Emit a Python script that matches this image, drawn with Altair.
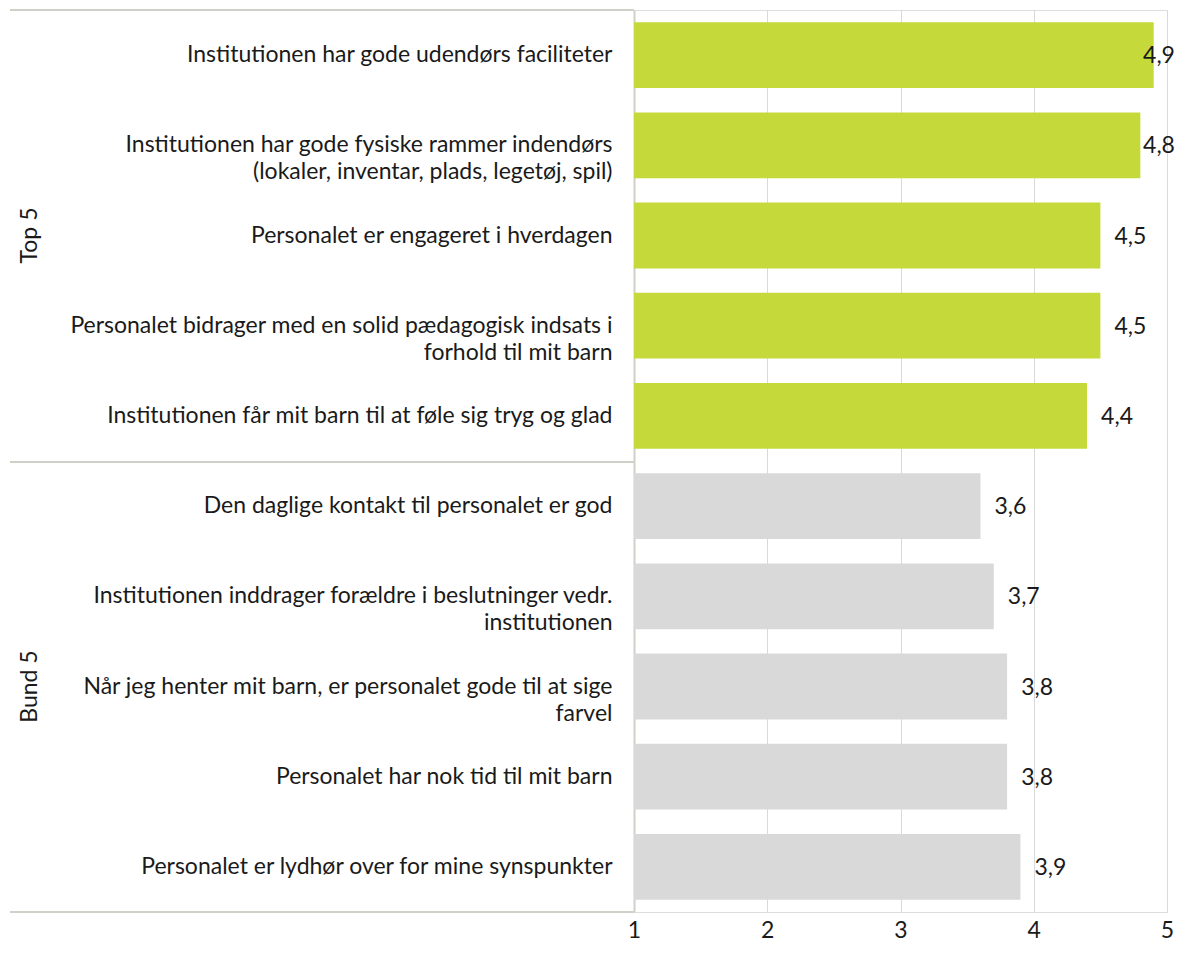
import altair as alt
import pandas as pd

categories = [
    "Institutionen har gode udendørs faciliteter",
    "Institutionen har gode fysiske rammer indendørs|(lokaler, inventar, plads, legetøj, spil)",
    "Personalet er engageret i hverdagen",
    "Personalet bidrager med en solid pædagogisk indsats i|forhold til mit barn",
    "Institutionen får mit barn til at føle sig tryg og glad",
    "Den daglige kontakt til personalet er god",
    "Institutionen inddrager forældre i beslutninger vedr.|institutionen",
    "Når jeg henter mit barn, er personalet gode til at sige|farvel",
    "Personalet har nok tid til mit barn",
    "Personalet er lydhør over for mine synspunkter",
]
values = [4.9, 4.8, 4.5, 4.5, 4.4, 3.6, 3.7, 3.8, 3.8, 3.9]
groups = ["Top 5"] * 5 + ["Bund 5"] * 5
labels = ["4,9", "4,8", "4,5", "4,5", "4,4", "3,6", "3,7", "3,8", "3,8", "3,9"]

FONT = "Lato"
FS = 23
W, H = 533, 902

df = pd.DataFrame({"cat": categories, "v": values, "g": groups, "lab": labels,
                   "start": [1] * len(values)})

xscale = alt.Scale(domain=[1, 5], nice=False)
yscale = alt.Scale(domain=categories, paddingInner=0.27, paddingOuter=0.135)

base = alt.Chart(df)

bars = base.mark_bar().encode(
    y=alt.Y("cat:N", scale=yscale, sort=categories,
            axis=alt.Axis(title=None, labelExpr="split(datum.label, '|')",
                          labelFontSize=FS, labelFont=FONT, labelColor="#1a1a1a",
                          labelPadding=22, labelLineHeight=27, labelLimit=700,
                          ticks=False, grid=False, domainColor="#D0D0C8",
                          domainWidth=2)),
    x=alt.X("start:Q", scale=xscale,
            axis=alt.Axis(title=None, values=[1, 2, 3, 4, 5], format="d",
                          labelFontSize=FS, labelFont=FONT, labelColor="#1a1a1a",
                          labelPadding=7, labelFlush=False, ticks=False, domain=False,
                          grid=True, gridColor="#D9D9D9", gridWidth=1)),
    x2="v:Q",
    color=alt.Color("g:N", scale=alt.Scale(domain=["Top 5", "Bund 5"],
                                           range=["#C5D93B", "#D9D9D9"]),
                    legend=None),
)

text = base.transform_calculate(
    lx="min(datum.v + 0.225, 4.94)"
).mark_text(font=FONT, fontSize=FS, color="#1a1a1a", align="center",
            baseline="middle", dy=1).encode(
    y=alt.Y("cat:N", scale=yscale, sort=categories),
    x=alt.X("lx:Q", scale=xscale),
    text="lab:N",
)

gdf = pd.DataFrame({"g": ["Top 5", "Bund 5"],
                    "mid": [categories[2], categories[7]]})
glabels = alt.Chart(gdf).mark_text(font=FONT, fontSize=FS, color="#1a1a1a",
                                   angle=270, align="center", baseline="middle").encode(
    y=alt.Y("mid:N", scale=yscale, sort=categories),
    x=alt.value(-604),
    text="g:N",
)

sep = pd.DataFrame({"yp": [0, 452, 902]})
seps = alt.Chart(sep).mark_rule(color="#D0D0C8", strokeWidth=2).encode(
    y=alt.Y("yp:Q", scale=None),
    x=alt.value(-624),
    x2=alt.value(0),
)

chart = alt.layer(bars, text, glabels, seps).properties(
    width=W, height=H,
    autosize=alt.AutoSizeParams(type="none"),
    padding={"left": 626, "top": 2, "right": 9, "bottom": 33},
).configure_view(stroke=None).configure(background="white")

chart.save("out.html", embed_options={"renderer": "svg", "actions": False})
